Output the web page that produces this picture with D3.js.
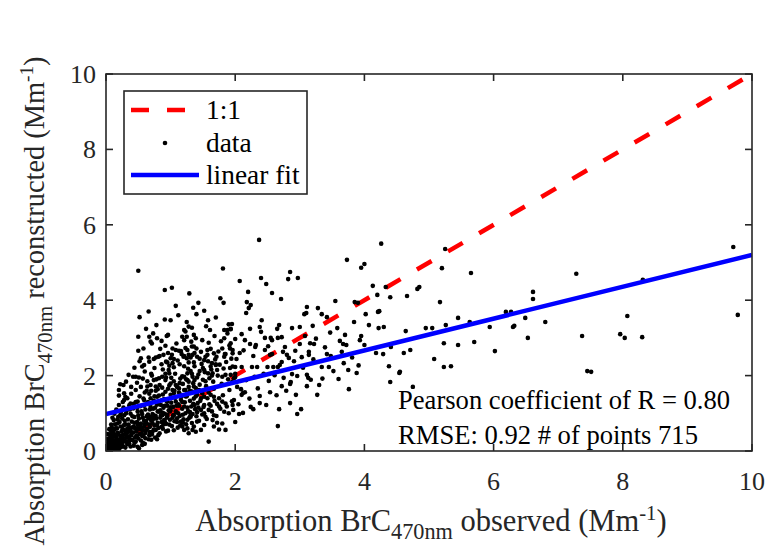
<!DOCTYPE html>
<html>
<head>
<meta charset="utf-8">
<script src="https://cdn.jsdelivr.net/npm/d3@7"></script>
<style>
  body { margin: 0; background: #fff; }
  svg { display: block; }
</style>
</head>
<body>
<div id="chart"></div>
<script>
// Data (observed, reconstructed), Mm^-1

// outliers / sparse points to the right
const outerPts = [
  [4.26,5.50],[5.25,5.36],[4.00,4.96],[3.95,4.86],[5.20,4.85],[5.65,4.72],[4.13,4.38],[4.33,4.35],
  [4.85,4.35],[4.82,4.30],[4.20,4.14],[4.40,4.08],[4.66,4.11],[5.17,3.95],[4.02,3.63],[4.21,3.69],
  [4.23,3.71],[5.45,3.53],[4.07,3.34],[4.22,3.26],[4.30,3.29],[4.95,3.26],[5.05,3.26],[5.26,3.34],
  [5.63,3.42],[5.94,3.29],[4.64,3.18],[3.95,3.05],[3.93,2.94],[5.23,2.86],[5.45,2.81],[5.70,2.89],
  [4.00,2.81],[4.41,2.76],[4.71,2.68],[4.18,2.60],[4.29,2.57],[4.61,2.60],[6.02,2.65],[5.08,2.44],
  [4.38,2.25],[5.23,2.23],[5.34,2.25],[4.55,2.10],[4.54,2.07],[4.40,1.83],[4.75,1.70],
  [6.19,3.69],[6.27,3.69],[6.30,3.29],[6.32,3.32],[6.49,3.53],[6.61,4.22],[6.61,4.03],[6.53,3.00],
  [6.80,3.42],[7.28,4.70],[7.37,3.05],[7.45,2.12],[7.51,2.10],[7.96,3.10],[8.03,3.00],[8.07,3.58],
  [9.71,5.41],[8.31,4.54],[9.78,3.61],[8.30,3.02],[9.95,1.30]
];

// middle band, x between 2 and 4
const midPts = [
  [2.37,5.60],[3.73,5.07],[2.85,4.75],[2.82,4.56],[2.97,4.59],[2.40,4.59],[2.48,4.43],[2.07,4.51],
  [2.57,4.19],[2.20,4.22],[2.71,4.03],[2.18,3.95],[2.24,3.87],[2.21,3.79],[2.17,3.66],[3.85,3.95],
  [3.90,3.93],[3.11,3.82],[3.07,3.63],[3.10,3.66],[3.28,3.79],[3.34,3.63],[2.41,3.47],[3.42,3.55],
  [1.95,3.37],[1.93,3.24],[2.23,3.24],[2.38,3.29],[2.40,3.16],[2.68,3.34],[2.65,3.24],[2.72,3.02],
  [2.66,3.00],[2.57,2.94],[2.55,3.00],[2.88,3.26],[3.00,3.29],[3.20,3.32],[3.58,3.26],[2.10,3.10],
  [2.15,2.94],[2.00,2.97],[1.93,2.86],[1.96,2.68],[2.23,2.84],[2.31,2.76],[2.32,2.81],[2.46,3.00],
  [3.00,2.84],[3.16,2.86],[3.22,2.84],[3.70,3.08],[3.67,2.84],[3.72,2.81],[2.46,2.68],[2.07,2.60],
  [2.77,2.76],[2.74,2.63],[2.54,2.55],[2.57,2.57],[3.14,2.63],[3.14,2.55],[3.42,2.57],[3.48,2.52],
  [3.65,2.63],[2.80,2.55],[2.83,2.47],[2.72,2.36],[2.66,2.23],[2.69,2.28],[3.03,2.49],[2.59,2.23],
  [2.50,2.23],[2.26,2.23],[2.34,2.23],[2.10,2.23],[2.00,2.23],[3.34,2.23],[3.45,2.23],[3.68,2.33],
  [3.75,2.15],[3.88,2.07],[2.88,2.04],[2.96,1.99],[2.85,1.78],[2.86,1.83],[3.11,2.02],[3.13,1.94],
  [3.11,1.72],[2.72,1.72],[3.30,1.75],[3.76,1.64],[1.92,2.20],[2.00,1.96],[1.95,1.83],[2.03,1.70],
  [2.09,1.64],[2.12,1.54],[2.15,1.56],[2.10,1.49],[2.38,1.46],[2.38,1.27],[2.54,1.56],[2.24,1.17],
  [2.28,1.11],[1.97,1.09],[2.12,1.01],[2.06,0.98],[2.85,1.27],[2.68,1.11],[3.02,1.11],[2.96,0.98],
  [3.27,1.49],[2.00,0.77],[2.66,0.66],
  [2.05,1.24],[2.17,1.88],[2.22,1.39],[2.30,1.97],[2.35,1.66],[2.44,2.05],[2.48,1.22],[2.52,1.86],
  [2.61,2.01],[2.64,1.48],[2.75,1.94],[2.79,1.60],[2.91,2.38],[2.94,1.49],[3.05,2.21],[3.17,1.89],
  [3.21,2.43],[3.35,1.92],[3.39,2.75],[3.52,2.12],[3.60,1.91],[3.62,2.92],[3.81,2.48],[3.84,3.42],
  [3.91,2.27],[3.55,3.98],[2.02,2.44],[2.13,2.67],[2.28,2.52],[2.51,2.78],[2.60,2.07],[2.93,2.66],
  [3.08,3.05],[3.25,2.98],[3.47,3.14],[2.00,2.05]
];

// upper part of the main cluster, x below 2
const upperPts = [
  [0.50,4.78],[1.81,4.84],[0.91,4.27],[1.02,4.33],[1.82,3.93],[0.52,3.55],[0.91,3.49],[1.35,3.80],
  [1.40,3.63],[1.52,3.72],[1.58,3.47],[1.61,3.21],[1.21,3.21],[1.28,3.30],[1.33,3.27],[1.23,3.17],
  [1.18,3.03],[1.25,3.03],[1.21,2.94],[1.36,3.08],[0.50,3.03],[0.50,2.66],[0.67,3.03],[0.73,3.12],
  [0.69,2.90],[0.79,2.99],[0.94,3.05],[0.96,3.08],[0.92,2.79],[1.83,3.21],[1.88,3.21],[1.93,3.23],
  [1.90,3.36],[1.83,2.99],[1.33,2.77],[1.36,2.77],[1.39,2.99],[1.26,2.68],[1.28,2.55],[1.03,2.72],
  [1.08,2.68],[1.13,2.66],[1.17,2.57],[1.21,2.52],[0.77,2.48],[0.81,2.50],[0.89,2.55],[0.83,2.52],
  [0.95,2.35],[1.00,2.46],[0.98,2.26],[0.93,2.37],[1.03,2.33],[1.05,2.22],[0.98,2.06],[1.47,2.63],
  [1.41,2.50],[1.52,2.41],[1.57,2.68],[1.34,2.55],[1.31,2.48],[1.25,2.46],[1.20,2.50],[1.62,2.71],
  [1.67,2.59],[1.71,2.50],[1.80,2.72],[1.83,2.50],[1.85,2.57],[1.96,2.59],[1.92,2.72],[0.54,2.46],
  [0.59,2.28],[0.56,2.24],[0.67,2.37],[0.74,2.44],[0.42,1.97],[0.46,1.97],[0.51,1.95],[0.22,1.77],
  [0.27,1.75],[0.20,1.62],[0.28,1.53],[0.30,1.44],[0.20,1.47],[1.62,2.24],[1.70,2.28],[1.72,2.15],
  [1.65,2.06],[1.58,2.06],[1.52,2.15],[1.80,1.97],[1.85,2.02],[1.93,2.02],[1.96,2.24],[1.98,1.93],
  [1.21,1.97],[1.26,2.06],[1.34,1.97],[1.37,1.88],[1.28,1.84],[0.82,1.93],[0.87,1.97],[0.92,1.88],
  [0.74,1.88],[0.69,1.75],[0.64,1.71],[0.77,1.71],[1.00,1.79],[1.08,1.75],[1.13,1.66],[1.21,1.62],
  [1.05,1.53],[1.16,1.49],[1.26,1.53],[1.36,1.71],[1.44,1.62],[1.49,1.53],[1.41,1.49],[1.52,1.44],
  [1.57,1.40],[1.62,1.49],[1.67,1.44],[1.75,1.40],[1.80,1.31],[1.75,1.18],[1.83,1.04],[1.90,1.00],
  [1.96,1.22],[1.85,1.26],[1.98,1.35],[1.52,1.22],[1.47,1.09],[1.59,1.09],[1.67,0.95],[1.54,0.91],
  [1.65,0.82],[1.72,0.75],[1.52,0.69],[1.67,0.65],[1.75,0.57],[1.85,0.56],[1.80,0.73],[1.47,0.56],
  [1.39,0.51],[1.34,0.56],[1.26,0.60],[1.59,0.25],[0.28,1.35],[0.38,1.26],[0.49,1.31],[0.59,1.35],
  [0.69,1.40],[0.79,1.44],[0.87,1.35],[0.95,1.31],
  [0.31,1.84],[0.35,2.02],[0.39,1.70],[0.44,2.21],[0.48,1.81],[0.52,2.38],[0.57,1.92],[0.60,2.11],
  [0.63,1.60],[0.66,2.48],[0.70,2.05],[0.75,2.20],[0.80,1.64],[0.84,2.71],[0.88,2.16],[0.92,2.05],
  [0.96,2.60],[1.01,1.94],[1.05,2.44],[1.09,2.85],[1.14,2.30],[1.18,1.98],[1.23,2.73],[1.27,2.18],
  [1.32,2.90],[1.36,2.35],[1.40,2.72],[1.45,2.12],[1.49,2.94],[1.54,2.50],[1.59,2.87],[1.64,2.33],
  [1.68,3.05],[1.74,2.64],[1.78,2.91],[1.84,2.57],[1.88,3.12],[1.91,2.80],[0.58,2.72],[0.62,3.24],
  [0.71,2.85],[0.78,3.34],[0.86,2.92],[1.00,3.47],[1.12,3.60],[1.25,3.42],[1.43,3.93],[1.55,3.31],
  [1.70,3.54],[1.77,4.05],[1.29,4.18],[1.08,3.85],[0.66,3.70]
];

// dense core near the origin
const corePts = [
  [0.12,0.82],[0.18,0.73],[0.23,0.65],[0.28,0.69],[0.33,0.60],[0.38,0.56],[0.43,0.65],[0.49,0.69],
  [0.54,0.73],[0.59,0.65],[0.07,0.56],[0.12,0.47],[0.15,0.38],[0.20,0.29],[0.25,0.34],[0.30,0.25],
  [0.36,0.20],[0.41,0.29],[0.46,0.25],[0.49,0.11],[0.51,0.07],[0.56,0.16],[0.61,0.34],[0.67,0.42],
  [0.72,0.51],[0.77,0.56],[0.79,0.31],[0.02,0.20],[0.05,0.11],[0.07,0.07],[0.10,0.16],[0.01,0.03],
  [0.69,0.91],[0.74,0.95],[0.82,1.04],[0.87,0.95],[0.90,0.82],[0.95,0.91],[1.00,1.09],[1.05,0.95],
  [1.10,0.87],[1.16,0.78],[1.18,0.65],[1.21,0.56],[1.28,0.47],[1.36,0.65],[1.41,0.78],[1.31,0.91],
  [1.23,1.00],
  [0.03,0.05],[0.06,0.12],[0.08,0.02],[0.11,0.09],[0.14,0.18],[0.04,0.25],[0.09,0.31],[0.13,0.27],
  [0.17,0.08],[0.19,0.22],[0.21,0.14],[0.16,0.36],[0.07,0.41],[0.12,0.55],[0.18,0.48],[0.22,0.40],
  [0.24,0.26],[0.27,0.12],[0.29,0.44],[0.26,0.58],[0.31,0.35],[0.33,0.18],[0.35,0.51],[0.37,0.29],
  [0.39,0.42],[0.41,0.63],[0.43,0.14],[0.45,0.36],[0.47,0.52],[0.48,0.77],[0.52,0.45],[0.54,0.28],
  [0.55,0.61],[0.57,0.88],[0.58,0.40],[0.60,0.19],[0.62,0.55],[0.63,0.73],[0.65,0.97],[0.66,0.31],
  [0.68,0.64],[0.70,0.81],[0.71,0.44],[0.73,1.12],[0.75,0.68],[0.76,0.36],[0.78,0.86],[0.80,1.05],
  [0.81,0.61],[0.83,0.47],[0.85,1.22],[0.86,0.77],[0.88,0.59],[0.89,1.15],[0.91,0.99],[0.93,0.72],
  [0.94,1.31],[0.96,0.54],[0.97,1.08],[0.99,0.83],[1.01,1.28],[1.02,0.66],[1.04,1.17],[1.06,0.79],
  [1.07,1.41],[1.09,1.02],[1.11,0.62],[1.12,1.24],[1.14,0.93],[1.16,1.36],[1.18,1.12],[1.20,0.84],
  [1.22,1.29],[1.24,0.71],[1.25,1.45],[1.27,1.06],[1.29,0.88],[1.30,1.33],[1.32,1.18],[1.34,0.98],
  [1.36,1.39],[1.38,1.11],[1.40,0.92],[1.42,1.27],
  [0.02,0.32],[0.05,0.44],[0.09,0.63],[0.11,0.38],[0.14,0.71],[0.17,0.60],[0.19,0.91],[0.21,0.77],
  [0.23,1.02],[0.25,0.86],[0.27,1.15],[0.28,0.95],[0.30,0.71],[0.32,1.08],[0.34,0.84],[0.36,1.21],
  [0.38,0.99],[0.40,0.78],[0.42,1.13],[0.44,0.90],[0.46,1.30],[0.49,1.05],[0.51,0.86],[0.53,1.19],
  [0.56,0.98],[0.58,1.39],[0.61,1.10],[0.63,0.92],[0.64,1.26],[0.67,1.52],[0.69,1.17],[0.72,0.98],
  [0.74,1.33],[0.77,1.60],[0.79,1.23],[0.82,1.47],[0.84,1.08],[0.87,1.68],[0.90,1.38],[0.92,1.57],
  [0.95,1.20],[0.98,1.74],[1.00,1.49],[1.03,1.62],[1.05,1.85],[1.08,1.31],[1.10,1.70],[1.13,1.55],
  [1.15,1.92],[1.17,1.45],[1.19,1.78],[1.23,1.62],[1.26,1.88],[1.28,1.70],[1.31,2.12],[1.33,1.58],
  [1.35,1.80],[1.37,2.25],[1.39,1.67],[1.43,2.03],[1.45,1.76],[1.48,2.31],[1.50,1.89],[1.53,2.09],
  [1.55,1.72],[1.58,2.38],[1.60,1.93],[1.63,2.16],[1.66,1.84],[1.69,2.43],[1.73,2.00],[1.76,2.29],
  [1.79,1.78],[1.82,2.19],[1.86,2.36],[1.89,1.90],[1.94,2.45],
  [0.01,0.08],[0.04,0.17],[0.06,0.27],[0.10,0.03],[0.13,0.11],[0.15,0.24],[0.18,0.15],[0.20,0.05],
  [0.23,0.31],[0.25,0.19],[0.28,0.27],[0.30,0.09],[0.32,0.45],[0.34,0.24],[0.36,0.38],[0.38,0.12],
  [0.40,0.30],[0.42,0.49],[0.44,0.22],[0.47,0.41],[0.49,0.58],[0.50,0.33],[0.53,0.69],[0.55,0.47],
  [0.57,0.22],[0.59,0.80],[0.61,0.48],[0.64,0.59],[0.66,0.87],[0.68,0.50],[0.70,0.30],[0.72,0.74],
  [0.74,0.57],[0.77,0.93],[0.79,0.69],[0.81,0.42],[0.84,0.88],[0.86,0.64],[0.88,1.01],[0.91,0.78],
  [0.93,0.52],[0.95,0.96],[0.98,0.70],[1.00,1.16],[1.03,0.88],[1.05,0.55],[1.08,1.05],[1.10,0.77],
  [1.13,1.20],[1.15,0.68],[1.19,0.96],[1.21,1.18],[1.26,0.83],[1.30,1.03],[1.33,0.74],[1.37,1.22],
  [1.41,1.03],[1.44,0.80],[1.46,1.33],[1.49,0.97],[1.51,1.17],[1.56,0.85],[1.60,1.24],[1.64,1.05],
  [1.68,1.33],[1.71,0.93],[1.77,1.12],[1.81,1.48],[1.87,1.18],[1.91,1.62],[1.95,1.32],
  [0.05,0.58],[0.08,0.70],[0.10,0.88],[0.13,0.99],[0.15,0.60],[0.16,1.10],[0.18,0.84],[0.20,1.22],
  [0.22,0.95],[0.24,0.52],[0.26,1.30],[0.29,0.80],[0.31,1.00],[0.33,1.40],[0.35,0.70],[0.37,1.10],
  [0.39,1.52],[0.41,0.92],[0.43,1.25],[0.45,0.60],[0.46,1.62],[0.48,1.15],[0.50,0.95],[0.52,1.45],
  [0.54,1.70],[0.55,1.05],[0.57,0.55],[0.59,1.20],[0.60,1.55],[0.62,0.80],[0.64,1.85],[0.65,1.30],
  [0.67,0.70],[0.68,1.10],[0.70,1.60],[0.71,2.00],[0.73,0.85],[0.75,1.45],[0.76,1.15],[0.78,1.90],
  [0.80,0.75],[0.81,1.30],[0.83,1.75],[0.85,0.95],[0.86,2.30],[0.88,1.50],[0.89,0.70],[0.91,1.20],
  [0.93,1.95],[0.94,0.88],[0.96,1.65],[0.97,2.15],[0.99,1.05],[1.01,1.40],[1.02,2.55],[1.04,0.95],
  [1.06,1.60],[1.07,2.05],[1.09,1.20],[1.11,2.40],[1.12,1.00],[1.14,1.80],[1.16,2.65],[1.18,1.30],
  [1.19,0.75],[1.21,2.25],[1.23,1.45],[1.24,1.90],[1.26,1.15],[1.28,2.35],[1.30,1.60],[1.31,0.95],
  [1.33,2.05],[1.35,1.25],[1.37,2.60],[1.39,1.45],[1.41,1.95],[1.43,1.15],[1.45,2.45],[1.47,1.40],
  [1.50,2.20],[1.52,1.00],[1.54,1.85],[1.57,2.55],[1.59,1.55],[1.62,1.20],[1.64,2.00],[1.67,1.65],
  [1.70,2.30],[1.72,1.25],[0.02,0.45],[0.03,0.15],[0.05,0.34],[0.08,0.22],[0.09,0.48],[0.11,0.25],
  [0.13,0.40],[0.15,0.05],[0.17,0.30],[0.19,0.45],[0.21,0.30],[0.23,0.10],[0.26,0.42],[0.28,0.55],
  [0.31,0.50],[0.33,0.35],[0.36,0.62],[0.40,0.48],[0.44,0.75],[0.48,0.38],[0.52,0.58],[0.56,0.40],
  [0.60,0.70]
];

const points = corePts.concat(upperPts, midPts, outerPts);

// linear fit
const fitIntercept = 0.98;
const fitSlope = 0.422;

const xTicks = [0, 2, 4, 6, 8, 10];
const yTicks = [0, 2, 4, 6, 8, 10];
const legendLabels = ['1:1', 'data', 'linear fit'];
const statLines = ['Pearson coefficient of R = 0.80', 'RMSE: 0.92 # of points 715'];


function renderChart(elemId) {
  const width = 769;
  const height = 546;
  const margin = { top: 74, right: 17, bottom: 95, left: 106 };
  const plotW = width - margin.left - margin.right;
  const plotH = height - margin.top - margin.bottom;
  const axisColor = '#262626';
  const font = '"Liberation Serif", "Times New Roman", serif';

  const svg = d3.select(elemId)
    .append('svg')
    .attr('width', width)
    .attr('height', height)
    .style('font-family', font);

  const x = d3.scaleLinear().domain([0, 10]).range([0, plotW]);
  const y = d3.scaleLinear().domain([0, 10]).range([plotH, 0]);

  const g = svg.append('g')
    .attr('transform', `translate(${margin.left},${margin.top})`);

  g.append('clipPath').attr('id', 'plot-clip')
    .append('rect').attr('width', plotW).attr('height', plotH);

  const plot = g.append('g').attr('clip-path', 'url(#plot-clip)');

  // 1:1 line
  plot.append('line')
    .attr('x1', x(0)).attr('y1', y(0))
    .attr('x2', x(10)).attr('y2', y(10))
    .attr('stroke', '#ff0000')
    .attr('stroke-width', 4.5)
    .attr('stroke-dasharray', '17,19');

  // data
  plot.selectAll('.pt')
    .data(points)
    .enter()
    .append('circle')
    .attr('class', 'pt')
    .attr('cx', d => x(d[0]))
    .attr('cy', d => y(d[1]))
    .attr('r', 2.3)
    .attr('fill', '#000');

  // linear fit
  const fitLine = d3.line()
    .x(d => x(d))
    .y(d => y(fitIntercept + fitSlope * d));
  plot.append('path')
    .datum([0, 10])
    .attr('d', fitLine)
    .attr('fill', 'none')
    .attr('stroke', '#0000ff')
    .attr('stroke-width', 4.5);

  // stats box (white background hides points under it)
  const stats = g.append('g');
  stats.append('rect')
    .attr('x', 288).attr('y', 315)
    .attr('width', plotW - 288).attr('height', plotH - 315)
    .attr('fill', '#fff');
  stats.selectAll('text')
    .data(statLines)
    .enter()
    .append('text')
    .attr('x', 292)
    .attr('y', (d, i) => 335 + i * 35)
    .style('font-size', '26.6px')
    .attr('fill', '#000')
    .text(d => d);

  // axes frame and ticks (inward, all four sides)
  const tickLen = 7;
  const frame = g.append('g').attr('stroke', axisColor).attr('stroke-width', 1.6);
  frame.append('rect')
    .attr('width', plotW).attr('height', plotH)
    .attr('fill', 'none');
  xTicks.forEach(t => {
    frame.append('line').attr('x1', x(t)).attr('x2', x(t)).attr('y1', plotH).attr('y2', plotH - tickLen);
    frame.append('line').attr('x1', x(t)).attr('x2', x(t)).attr('y1', 0).attr('y2', tickLen);
  });
  yTicks.forEach(t => {
    frame.append('line').attr('x1', 0).attr('x2', tickLen).attr('y1', y(t)).attr('y2', y(t));
    frame.append('line').attr('x1', plotW).attr('x2', plotW - tickLen).attr('y1', y(t)).attr('y2', y(t));
  });

  g.selectAll('.xlab')
    .data(xTicks)
    .enter()
    .append('text')
    .attr('class', 'xlab')
    .attr('x', d => x(d))
    .attr('y', plotH + 39)
    .attr('text-anchor', 'middle')
    .style('font-size', '26px')
    .attr('fill', axisColor)
    .text(d => d);

  g.selectAll('.ylab')
    .data(yTicks)
    .enter()
    .append('text')
    .attr('class', 'ylab')
    .attr('x', -10)
    .attr('y', d => y(d) + 9)
    .attr('text-anchor', 'end')
    .style('font-size', '26px')
    .attr('fill', axisColor)
    .text(d => d);

  // axis titles with sub/superscripts
  function titleParts(sel, mid, size) {
    sel.append('tspan').text('Absorption BrC');
    sel.append('tspan').attr('dy', 8).style('font-size', (size * 0.73) + 'px').text('470nm');
    sel.append('tspan').attr('dy', -8).text(mid + ' (Mm');
    sel.append('tspan').attr('dy', -11).style('font-size', (size * 0.68) + 'px').text('-1');
    sel.append('tspan').attr('dy', 11).text(')');
  }

  const xTitle = svg.append('text')
    .attr('x', margin.left + plotW / 2 + 2)
    .attr('y', 531)
    .attr('text-anchor', 'middle')
    .style('font-size', '30.5px')
    .attr('fill', axisColor);
  titleParts(xTitle, ' observed', 30.5);

  const yTitle = svg.append('text')
    .attr('transform', `translate(44, 301) rotate(-90)`)
    .attr('text-anchor', 'middle')
    .style('font-size', '28.4px')
    .attr('fill', axisColor);
  titleParts(yTitle, ' reconstructed', 28.4);

  // legend
  const leg = svg.append('g').attr('transform', 'translate(124, 91)');
  leg.append('rect')
    .attr('width', 183).attr('height', 103)
    .attr('fill', '#fff')
    .attr('stroke', axisColor)
    .attr('stroke-width', 1.6);
  const rowY = [19, 52, 84];
  leg.append('line')
    .attr('x1', 7).attr('x2', 75).attr('y1', rowY[0]).attr('y2', rowY[0])
    .attr('stroke', '#ff0000').attr('stroke-width', 4.5)
    .attr('stroke-dasharray', '18,18');
  leg.append('circle')
    .attr('cx', 41).attr('cy', rowY[1]).attr('r', 2.3).attr('fill', '#000');
  leg.append('line')
    .attr('x1', 7).attr('x2', 75).attr('y1', rowY[2]).attr('y2', rowY[2])
    .attr('stroke', '#0000ff').attr('stroke-width', 4.5);
  leg.selectAll('.legtext')
    .data(legendLabels)
    .enter()
    .append('text')
    .attr('class', 'legtext')
    .attr('x', 82)
    .attr('y', (d, i) => rowY[i] + 9)
    .style('font-size', '27.4px')
    .attr('fill', '#000')
    .text(d => d);
}

renderChart('#chart');
</script>
</body>
</html>
